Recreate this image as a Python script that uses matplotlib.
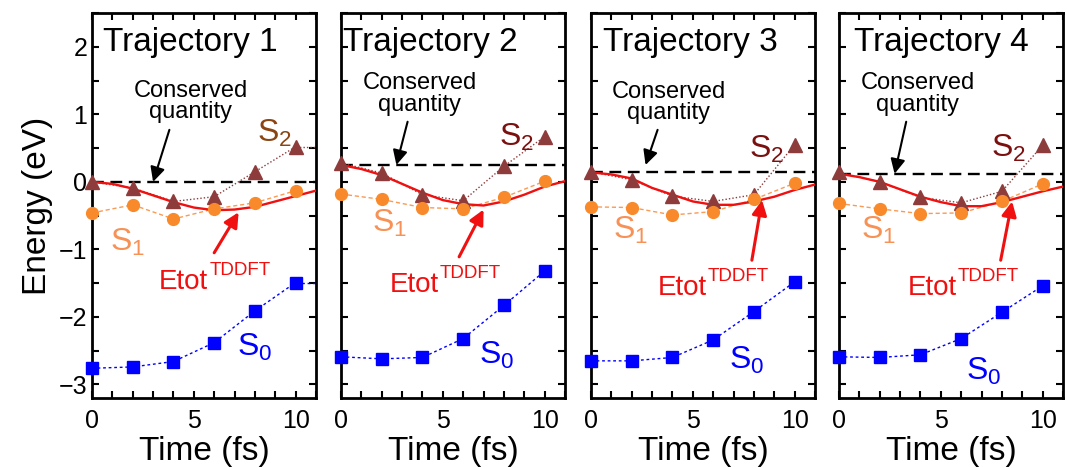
import matplotlib
matplotlib.use("Agg")
import matplotlib.pyplot as plt
from matplotlib.ticker import MultipleLocator
from matplotlib.transforms import IdentityTransform

plt.rcParams['font.family'] = ['Liberation Sans', 'DejaVu Sans']
plt.rcParams['mathtext.fontset'] = 'custom'
plt.rcParams['mathtext.rm'] = 'Liberation Sans'
plt.rcParams['mathtext.it'] = 'Liberation Sans:italic'

# ---------------- data ----------------
titles = ["Trajectory 1", "Trajectory 2", "Trajectory 3", "Trajectory 4"]
t_md = [0, 2, 4, 6, 8, 10]
t_etot = [0, 1, 2, 3, 4, 5, 6, 7, 8, 9, 10, 11]

s0_1 = [-2.76, -2.74, -2.66, -2.38, -1.91, -1.49]
s1_1 = [-0.46, -0.34, -0.55, -0.40, -0.31, -0.13]
s2_1 = [0.00, -0.09, -0.29, -0.22, 0.15, 0.52]
etot_1 = [0.00, -0.03, -0.10, -0.20, -0.30, -0.38, -0.42, -0.41, -0.37, -0.29, -0.21, -0.13]
cons_1 = 0.00

s0_2 = [-2.59, -2.62, -2.60, -2.32, -1.83, -1.32]
s1_2 = [-0.18, -0.26, -0.38, -0.40, -0.23, 0.01]
s2_2 = [0.28, 0.13, -0.19, -0.28, 0.23, 0.67]
etot_2 = [0.25, 0.19, 0.10, -0.03, -0.16, -0.27, -0.33, -0.35, -0.29, -0.19, -0.07, 0.01]
cons_2 = 0.25

s0_3 = [-2.65, -2.65, -2.60, -2.34, -1.92, -1.48]
s1_3 = [-0.37, -0.38, -0.49, -0.44, -0.26, -0.02]
s2_3 = [0.15, 0.03, -0.21, -0.29, -0.19, 0.55]
etot_3 = [0.14, 0.11, 0.05, -0.09, -0.19, -0.29, -0.34, -0.34, -0.29, -0.22, -0.12, -0.04]
cons_3 = 0.14

s0_4 = [-2.59, -2.60, -2.56, -2.32, -1.93, -1.54]
s1_4 = [-0.32, -0.40, -0.47, -0.46, -0.29, -0.03]
s2_4 = [0.14, 0.00, -0.23, -0.31, -0.14, 0.54]
etot_4 = [0.12, 0.07, 0.00, -0.11, -0.22, -0.30, -0.36, -0.36, -0.30, -0.22, -0.14, -0.07]
cons_4 = 0.12

# trajectory 1 dotted curves continue flat to the frame edge
t_tail = [10, 11]
s2_tail_1 = [0.52, 0.52]
s0_tail_1 = [-1.49, -1.49]

S0 = [s0_1, s0_2, s0_3, s0_4]
S1 = [s1_1, s1_2, s1_3, s1_4]
S2 = [s2_1, s2_2, s2_3, s2_4]
ETOT = [etot_1, etot_2, etot_3, etot_4]
CONS = [cons_1, cons_2, cons_3, cons_4]

# ---------------- layout (annotation positions) ----------------
title_x = [0.54, 0.08, 0.6, 0.75]
cons_text = [(4.85, 1.19), (3.85, 1.30), (3.8, 1.18), (3.85, 1.30)]
cons_arrow = [((3.8, 0.77), (3.0, 0.0)), ((3.27, 0.89), (2.72, 0.25)),
              ((3.27, 0.77), (2.68, 0.25)), ((3.3, 0.89), (2.73, 0.12))]
etot_arrow = [((6.0, -1.05), (7.2, -0.45)), ((5.8, -1.11), (7.0, -0.41)),
              ((7.9, -1.16), (8.4, -0.27)), ((7.94, -1.16), (8.5, -0.29))]
s2_lab = [(8.1, 0.59), (7.76, 0.53), (7.76, 0.35), (7.46, 0.37)]
s1_lab = [(0.88, -1.02), (1.5, -0.74), (1.07, -0.85), (1.1, -0.85)]
s0_lab = [(7.1, -2.57), (6.78, -2.69), (6.78, -2.77), (6.24, -2.93)]
etot_lab = [(3.3, -1.58), (2.39, -1.63), (3.27, -1.67), (3.37, -1.67)]

c_s2 = "#8E3B3B"
c_s2_lab = ["#8B4513", "#7B1010", "#7B1010", "#7B1010"]
c_s1 = "#F98A2C"
c_s1_line = "#F99A55"
c_s1_lab = "#F79155"
c_s0 = "#0000FF"
c_red = "#F01010"

W, H = 1067, 468
fig = plt.figure(figsize=(W / 100, H / 100), dpi=100)
lefts = [92, 341, 591, 839]
etot_texts = []
for i in range(4):
    ax = fig.add_axes([lefts[i] / W, 1 - 398 / H, 224 / W, 385 / H])
    ax.set_xlim(0, 11)
    ax.set_ylim(-3.2, 2.5)

    ax.axhline(CONS[i], color="k", lw=1.7, dashes=(5, 2.8), zorder=2)
    ax.plot(t_etot, ETOT[i], color=c_red, lw=1.7, zorder=3)

    ax.plot(t_md, S2[i], color=c_s2, lw=1.0, ls=(0, (1, 1.5)), zorder=2)
    ax.plot(t_md, S1[i], color=c_s1_line, lw=1.0, ls=(0, (3, 2)), zorder=2)
    ax.plot(t_md, S0[i], color=c_s0, lw=1.0, ls=(0, (2, 2)), zorder=2)
    if i == 0:
        ax.plot(t_tail, s2_tail_1, color=c_s2, lw=1.0, ls=(0, (1, 1.5)), zorder=2)
        ax.plot(t_tail, s0_tail_1, color=c_s0, lw=1.0, ls=(0, (2, 2)), zorder=2)

    ax.plot(t_md, S2[i], ls="none", marker="^", ms=10.5, color=c_s2, clip_on=False, zorder=4)
    ax.plot(t_md, S1[i], ls="none", marker="o", ms=8.5, color=c_s1, clip_on=False, zorder=5)
    ax.plot(t_md, S0[i], ls="none", marker="s", ms=9, color=c_s0, clip_on=False, zorder=5)

    ax.text(title_x[i], 1.93, titles[i], fontsize=24, ha="left", va="baseline")
    cx, cy = cons_text[i]
    ax.text(cx, cy, "Conserved\nquantity", fontsize=17, ha="center", va="center",
            linespacing=0.95)
    (x0, y0), (x1, y1) = cons_arrow[i]
    ax.annotate("", xy=(x1, y1), xytext=(x0, y0),
                arrowprops=dict(arrowstyle="-|>", color="k", lw=1.5,
                                mutation_scale=22, shrinkA=0, shrinkB=0))
    (x0, y0), (x1, y1) = etot_arrow[i]
    ax.annotate("", xy=(x1, y1), xytext=(x0, y0),
                arrowprops=dict(arrowstyle="-|>", color=c_red, lw=2.2,
                                mutation_scale=22, shrinkA=0, shrinkB=0))

    ax.text(*s2_lab[i], r"S$_\mathregular{2}$", fontsize=23, color=c_s2_lab[i],
            ha="left", va="baseline")
    ax.text(*s1_lab[i], r"S$_\mathregular{1}$", fontsize=23, color=c_s1_lab,
            ha="left", va="baseline")
    ax.text(*s0_lab[i], r"S$_\mathregular{0}$", fontsize=23, color=c_s0,
            ha="left", va="baseline")
    et = ax.text(*etot_lab[i], "Etot", fontsize=20, color=c_red,
                 ha="left", va="baseline")
    etot_texts.append((ax, et, etot_lab[i]))

    ax.xaxis.set_major_locator(MultipleLocator(5))
    ax.xaxis.set_minor_locator(MultipleLocator(1))
    ax.yaxis.set_major_locator(MultipleLocator(1))
    ax.yaxis.set_minor_locator(MultipleLocator(0.5))
    ax.tick_params(which="both", direction="in", top=True, right=True,
                   length=5, width=1.5, labelsize=18)
    ax.tick_params(axis="x", pad=8)
    for sp in ax.spines.values():
        sp.set_linewidth(2)
    ax.set_xlabel("Time (fs)", fontsize=24, labelpad=2)
    if i == 0:
        ax.set_yticks([-3, -2, -1, 0, 1, 2])
        ax.set_yticklabels(["\u22123", "\u22122", "\u22121", "0", "1", "2"])
        ax.set_ylabel("Energy (eV)", fontsize=24, labelpad=4)
    else:
        ax.tick_params(axis="y", labelleft=False)

# superscript "TDDFT" placed right after "Etot", raised above its baseline
fig.canvas.draw()
renderer = fig.canvas.get_renderer()
for ax, et, (lx, ly) in etot_texts:
    bb = et.get_window_extent(renderer)
    base_y = ax.transData.transform((lx, ly))[1]
    fig.text(bb.x1 + 1, base_y + 14, "TDDFT", fontsize=13.5, color=c_red,
             ha="left", va="baseline", transform=IdentityTransform())

fig.savefig("out.png", dpi=100)
